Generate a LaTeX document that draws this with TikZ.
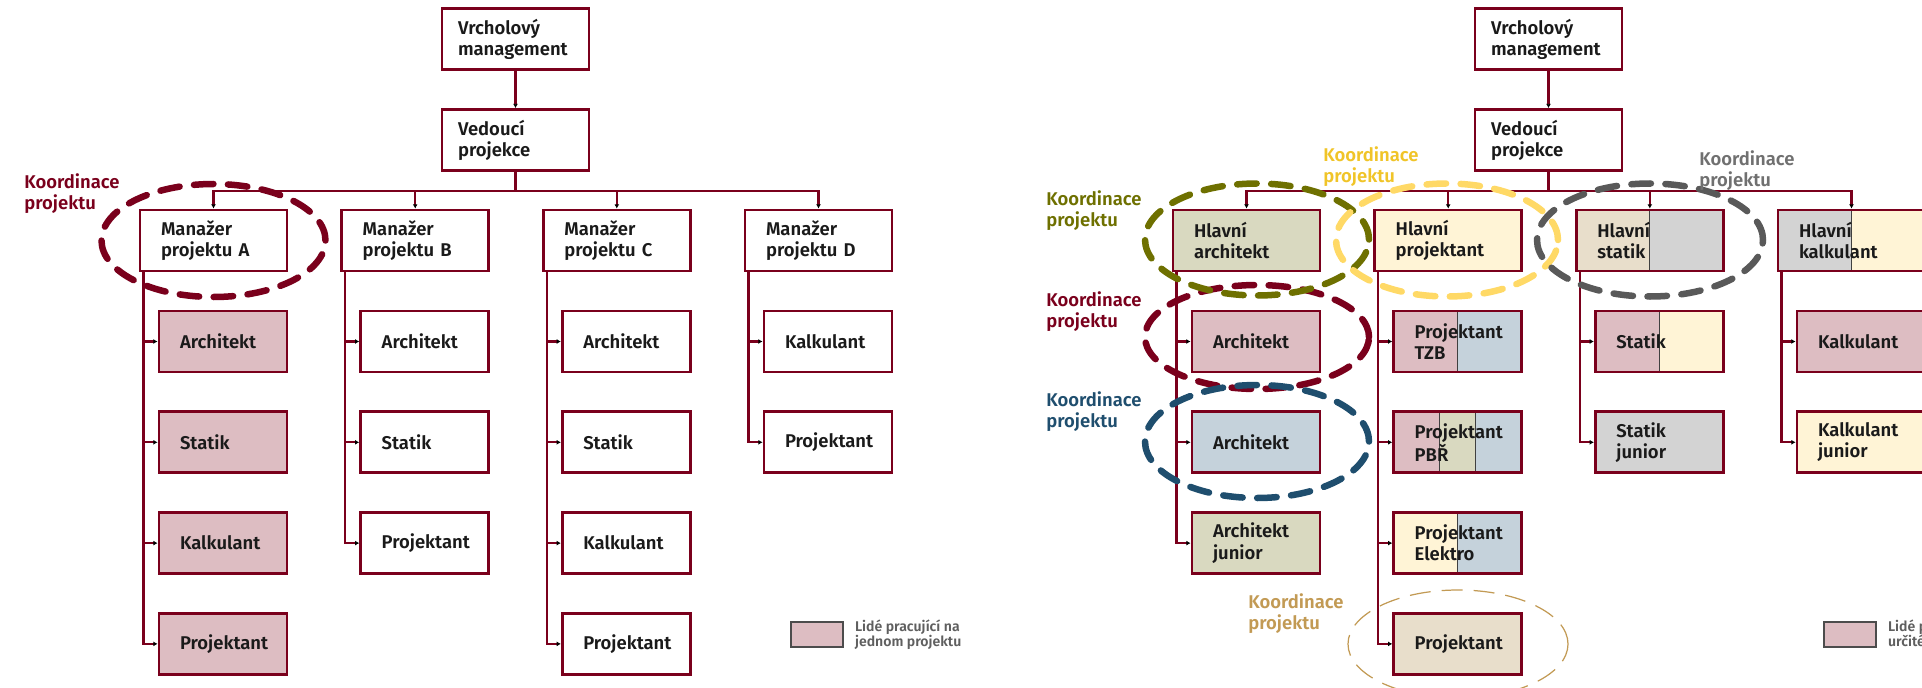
\documentclass[tikz,border=0pt]{standalone}
\usepackage{fontspec}
\IfFontExistsTF{Fira Sans SemiBold}
  {\setmainfont{Fira Sans}[BoldFont={Fira Sans SemiBold}]}
  {\IfFontExistsTF{Fira Sans Medium}
    {\setmainfont{Fira Sans}[BoldFont={Fira Sans Medium}]}
    {\setmainfont{Fira Sans}}}
\usetikzlibrary{arrows.meta,scopes,positioning}
\definecolor{orgRed}{RGB}{122,0,28}
\definecolor{textDark}{RGB}{26,26,26}
\definecolor{rolePink}{RGB}{221,189,194}
\definecolor{roleBlue}{RGB}{197,210,219}
\definecolor{roleOlive}{RGB}{217,217,192}
\definecolor{roleYellow}{RGB}{255,244,214}
\definecolor{roleTan}{RGB}{232,222,203}
\definecolor{roleGrey}{RGB}{211,211,211}
\definecolor{koorOlive}{RGB}{110,112,0}
\definecolor{koorYellow}{RGB}{255,217,102}
\definecolor{koorYellowText}{RGB}{240,196,40}
\definecolor{koorGrey}{RGB}{89,89,89}
\definecolor{koorGreyText}{RGB}{112,112,112}
\definecolor{koorBlue}{RGB}{31,78,110}
\definecolor{koorTan}{RGB}{194,154,84}
\definecolor{legendGrey}{RGB}{95,95,95}

\tikzset{
  orgbox/.style={draw=orgRed, line width=1.6pt, fill=white, text=textDark, align=left,
    minimum height=1.22cm, inner ysep=0pt},
  topbox/.style={orgbox, inner xsep=0.32cm, text width=2.30cm},
  headbox/.style={orgbox, inner xsep=0.42cm, text width=2.10cm},
  rolebox/.style={orgbox, inner xsep=0.42cm, text width=1.72cm},
  link/.style={draw=orgRed, line width=1.3pt},
  arrowin/.style={-{Latex[length=2.4pt,width=2.8pt,color=black]}},
  koord/.style={line width=3.7pt, dash pattern=on 0.39cm off 0.29cm, line cap=round},
  koordtext/.style={align=left, anchor=west, inner sep=0pt},
  splitline/.style={draw=black!75, line width=0.6pt},
  halves/.style 2 args={path picture={
    \fill[#1] (path picture bounding box.south west) rectangle (path picture bounding box.north);
    \fill[#2] (path picture bounding box.south) rectangle (path picture bounding box.north east);
    \draw[splitline] (path picture bounding box.south) -- (path picture bounding box.north);}},
  thirds/.style n args={3}{path picture={
    \fill[#1] (path picture bounding box.south west) rectangle ([xshift=0.92cm]path picture bounding box.north west);
    \fill[#2] ([xshift=0.92cm]path picture bounding box.south west) rectangle ([xshift=1.64cm]path picture bounding box.north west);
    \fill[#3] ([xshift=1.64cm]path picture bounding box.south west) rectangle (path picture bounding box.north east);
    \draw[splitline] ([xshift=0.92cm]path picture bounding box.south west) -- ([xshift=0.92cm]path picture bounding box.north west);
    \draw[splitline] ([xshift=1.64cm]path picture bounding box.south west) -- ([xshift=1.64cm]path picture bounding box.north west);}},
}

\begin{document}
\begin{tikzpicture}[x=0.2mm, y=-0.2mm, font=\fontsize{10.5}{12}\selectfont\bfseries]
  \useasboundingbox (0,0) rectangle (1922,688);
  \clip (0,0) rectangle (1922,688);

  % linienorganisation
  \node[topbox] (vm) at (515.5,39) {Vrcholový\\management};
  \node[topbox] (vp) at (515.5,140) {Vedoucí\\projekce};
  \node[headbox] (mA) at (213.5,240.5) {Manažer\\projektu A};
  \node[headbox] (mB) at (415.2,240.5) {Manažer\\projektu B};
  \node[headbox] (mC) at (616.8,240.5) {Manažer\\projektu C};
  \node[headbox] (mD) at (818.5,240.5) {Manažer\\projektu D};
  {[every node/.style={rolebox, fill=rolePink}]
    \node (a1) at (223,341.5) {Architekt};
    \node (a2) at (223,442.3) {Statik};
    \node (a3) at (223,543.1) {Kalkulant};
    \node (a4) at (223,643.9) {Projektant};
  }
  {[every node/.style={rolebox}]
    \node (b1) at (424.7,341.5) {Architekt};
    \node (b2) at (424.7,442.3) {Statik};
    \node (b3) at (424.7,543.1) {Projektant};
    \node (c1) at (626.3,341.5) {Architekt};
    \node (c2) at (626.3,442.3) {Statik};
    \node (c3) at (626.3,543.1) {Kalkulant};
    \node (c4) at (626.3,643.9) {Projektant};
    \node (d1) at (828,341.5) {Kalkulant};
    \node (d2) at (828,442.3) {Projektant};
  }
  {[link, arrowin]
    \draw (vm) -- (vp);
    \draw (vp.south) -- ++(0,19) -| (mA.north);
    \draw (vp.south) -- ++(0,19) -| (mB.north);
    \draw (vp.south) -- ++(0,19) -| (mC.north);
    \draw (vp.south) -- ++(0,19) -| (mD.north);
    \draw ([xshift=0.1cm]mA.south west) |- (a1.west);
    \draw ([xshift=0.1cm]mA.south west) |- (a2.west);
    \draw ([xshift=0.1cm]mA.south west) |- (a3.west);
    \draw ([xshift=0.1cm]mA.south west) |- (a4.west);
    \draw ([xshift=0.1cm]mB.south west) |- (b1.west);
    \draw ([xshift=0.1cm]mB.south west) |- (b2.west);
    \draw ([xshift=0.1cm]mB.south west) |- (b3.west);
    \draw ([xshift=0.1cm]mC.south west) |- (c1.west);
    \draw ([xshift=0.1cm]mC.south west) |- (c2.west);
    \draw ([xshift=0.1cm]mC.south west) |- (c3.west);
    \draw ([xshift=0.1cm]mC.south west) |- (c4.west);
    \draw ([xshift=0.1cm]mD.south west) |- (d1.west);
    \draw ([xshift=0.1cm]mD.south west) |- (d2.west);
  }
  \draw[koord, draw=orgRed] (213.5,240.5) ellipse [x radius=2.24cm, y radius=1.13cm];
  \node[koordtext, text=orgRed] (kA) at (24,193.5) {Koordinace\\projektu};
  \node[draw=black!70, line width=0.8pt, fill=rolePink, minimum width=1.04cm, minimum height=0.5cm, inner sep=0pt] (legL) at (817,634.5) {};
  \node[koordtext, right=0.22cm of legL, text=legendGrey, font=\fontsize{8}{8.6}\selectfont\bfseries] (legLtext) {Lidé pracující na\\jednom projektu};

  % maticova organizace
  \node[topbox] (vm2) at (1548.5,39) {Vrcholový\\management};
  \node[topbox] (vp2) at (1548.5,140) {Vedoucí\\projekce};
  \node[headbox, fill=roleOlive] (hA) at (1246.5,240.5) {Hlavní\\architekt};
  \node[headbox, fill=roleYellow] (hP) at (1448.2,240.5) {Hlavní\\projektant};
  \node[headbox, halves={roleTan}{roleGrey}] (hS) at (1649.8,240.5) {Hlavní\\statik};
  \node[headbox, halves={roleGrey}{roleYellow}] (hK) at (1851.5,240.5) {Hlavní\\kalkulant};
  {[every node/.style={rolebox}]
    \node[fill=rolePink] (r11) at (1256,341.5) {Architekt};
    \node[fill=roleBlue] (r12) at (1256,442.3) {Architekt};
    \node[fill=roleOlive] (r13) at (1256,543.1) {Architekt\\junior};
    \node[halves={rolePink}{roleBlue}] (r21) at (1457.7,341.5) {Projektant\\TZB};
    \node[thirds={rolePink}{roleOlive}{roleBlue}] (r22) at (1457.7,442.3) {Projektant\\PBŘ};
    \node[halves={roleYellow}{roleBlue}] (r23) at (1457.7,543.1) {Projektant\\Elektro};
    \node[fill=roleTan] (r24) at (1457.7,643.9) {Projektant};
    \node[halves={rolePink}{roleYellow}] (r31) at (1659.3,341.5) {Statik};
    \node[fill=roleGrey] (r32) at (1659.3,442.3) {Statik\\junior};
    \node[fill=rolePink] (r41) at (1861,341.5) {Kalkulant};
    \node[fill=roleYellow] (r42) at (1861,442.3) {Kalkulant\\junior};
  }
  {[link, arrowin]
    \draw (vm2) -- (vp2);
    \draw (vp2.south) -- ++(0,19) -| (hA.north);
    \draw (vp2.south) -- ++(0,19) -| (hP.north);
    \draw (vp2.south) -- ++(0,19) -| (hS.north);
    \draw (vp2.south) -- ++(0,19) -| (hK.north);
    \draw ([xshift=0.1cm]hA.south west) |- (r11.west);
    \draw ([xshift=0.1cm]hA.south west) |- (r12.west);
    \draw ([xshift=0.1cm]hA.south west) |- (r13.west);
    \draw ([xshift=0.1cm]hP.south west) |- (r21.west);
    \draw ([xshift=0.1cm]hP.south west) |- (r22.west);
    \draw ([xshift=0.1cm]hP.south west) |- (r23.west);
    \draw ([xshift=0.1cm]hP.south west) |- (r24.west);
    \draw ([xshift=0.1cm]hS.south west) |- (r31.west);
    \draw ([xshift=0.1cm]hS.south west) |- (r32.west);
    \draw ([xshift=0.1cm]hK.south west) |- (r41.west);
    \draw ([xshift=0.1cm]hK.south west) |- (r42.west);
  }
  \draw[koord, draw=orgRed] (1257,337) ellipse [x radius=2.24cm, y radius=1.04cm];
  \draw[koord, draw=koorOlive] (1257,239.5) ellipse [x radius=2.24cm, y radius=1.12cm];
  \draw[koord, draw=koorBlue] (1257,441.5) ellipse [x radius=2.24cm, y radius=1.13cm];
  \draw[koord, draw=koorYellow] (1447,240) ellipse [x radius=2.22cm, y radius=1.13cm];
  \draw[koord, draw=koorGrey] (1650,240) ellipse [x radius=2.26cm, y radius=1.13cm];
  \draw[draw=koorTan, line width=0.7pt, dash pattern=on 0.42cm off 0.22cm] (1458,644) ellipse [x radius=2.2cm, y radius=1.08cm];
  \node[koordtext, text=koorOlive] (kHA) at (1046,211) {Koordinace\\projektu};
  \node[koordtext, text=orgRed] (kR11) at (1046,311.5) {Koordinace\\projektu};
  \node[koordtext, text=koorBlue] (kR12) at (1046,412) {Koordinace\\projektu};
  \node[koordtext, text=koorYellowText] (kHP) at (1323,166.5) {Koordinace\\projektu};
  \node[koordtext, text=koorGreyText] (kHS) at (1699,171) {Koordinace\\projektu};
  \node[koordtext, text=koorTan] (kR24) at (1248,613.5) {Koordinace\\projektu};
  \node[draw=black!70, line width=0.8pt, fill=rolePink, minimum width=1.04cm, minimum height=0.5cm, inner sep=0pt] (legR) at (1850,634.5) {};
  \node[koordtext, right=0.22cm of legR, text=legendGrey, font=\fontsize{8}{8.6}\selectfont\bfseries] (legRtext) {Lidé pracující na\\určitém projektu};
\end{tikzpicture}
\end{document}
